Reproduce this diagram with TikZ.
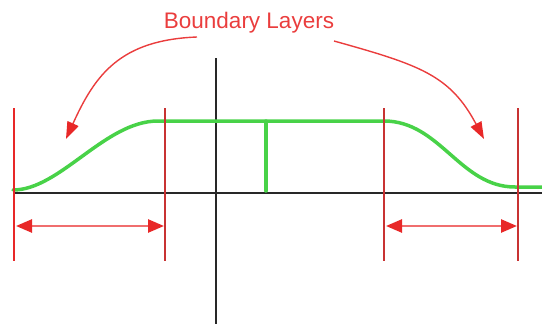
\documentclass[tikz,border=0pt]{standalone}
\usepackage{fontspec}
\setmainfont{Liberation Sans}
\usetikzlibrary{arrows.meta}
\definecolor{bred}{RGB}{232,40,40}
\definecolor{dred}{RGB}{200,50,50}
\definecolor{lred}{RGB}{240,110,110}
\definecolor{gline}{RGB}{72,210,72}
\definecolor{axis}{RGB}{40,40,40}
\tikzset{
  axisline/.style={draw=axis, line width=1.8pt},
  wall/.style={draw=dred, line width=1.4pt},
  profile/.style={draw=gline, line width=3.5pt, line cap=round, line join=round},
  span/.style={draw=lred, line width=2.5pt, {Triangle[length=16pt,width=13pt,fill=bred,color=bred]}-{Triangle[length=16pt,width=13pt,fill=bred,color=bred]}},
  pointer/.style={draw=bred!90, line width=1.4pt, -{Triangle[length=17pt,width=12pt,fill=bred,color=bred]}},
  label/.style={text=bred!90, font=\fontsize{22.5}{26}\selectfont, inner sep=0pt}
}
\begin{document}
\begin{tikzpicture}[x=1pt,y=-1pt]
\useasboundingbox (0,0) rectangle (542,324);
% coordinates
\coordinate (hL) at (13,193);
\coordinate (hR) at (542,193);
\coordinate (vT) at (216,58);
\coordinate (vB) at (216,324);
\coordinate (w1t) at (14,108); \coordinate (w1b) at (14,261);
\coordinate (w2t) at (165,108); \coordinate (w2b) at (165,261);
\coordinate (w3t) at (384,108); \coordinate (w3b) at (384,261);
\coordinate (w4t) at (518,108); \coordinate (w4b) at (518,261);
% axes
\draw[axisline] (hL) -- (hR);
\draw[axisline] (vT) -- (vB);
% profile
\coordinate (p0) at (13,190);
\coordinate (p1) at (158,121);
\coordinate (p2) at (384,121);
\coordinate (p3) at (515,187);
\coordinate (p4) at (542,187);
\draw[profile] (p0) .. controls (60,190) and (105,121) .. (p1) -- (p2)
  .. controls (440,121) and (460,187) .. (p3) -- (p4);
\coordinate (gT) at (266,121);
\coordinate (gB) at (266,191);
\draw[profile] (gT) -- (gB);
% walls
\draw[wall, draw=bred] (w1t) -- (w1b);
\draw[wall] (w2t) -- (w2b);
\draw[wall] (w3t) -- (w3b);
\draw[wall] (w4t) -- (w4b);
% spans
\coordinate (s1a) at (16,226); \coordinate (s1b) at (164,226);
\coordinate (s2a) at (386,226); \coordinate (s2b) at (517,226);
\draw[span] (s1a) -- (s1b);
\draw[span] (s2a) -- (s2b);
% label and pointers
\node[label] (lab) at (249,23) {Boundary Layers};
\coordinate (a1s) at (197,37);
\coordinate (a1e) at (66,139);
\coordinate (a2s) at (334,41);
\coordinate (a2e) at (484,139);
\draw[pointer] (a1s) .. controls (120,40) and (95,75) .. (a1e);
\draw[pointer] (a2s) .. controls (420,65) and (450,75) .. (a2e);
\end{tikzpicture}
\end{document}
